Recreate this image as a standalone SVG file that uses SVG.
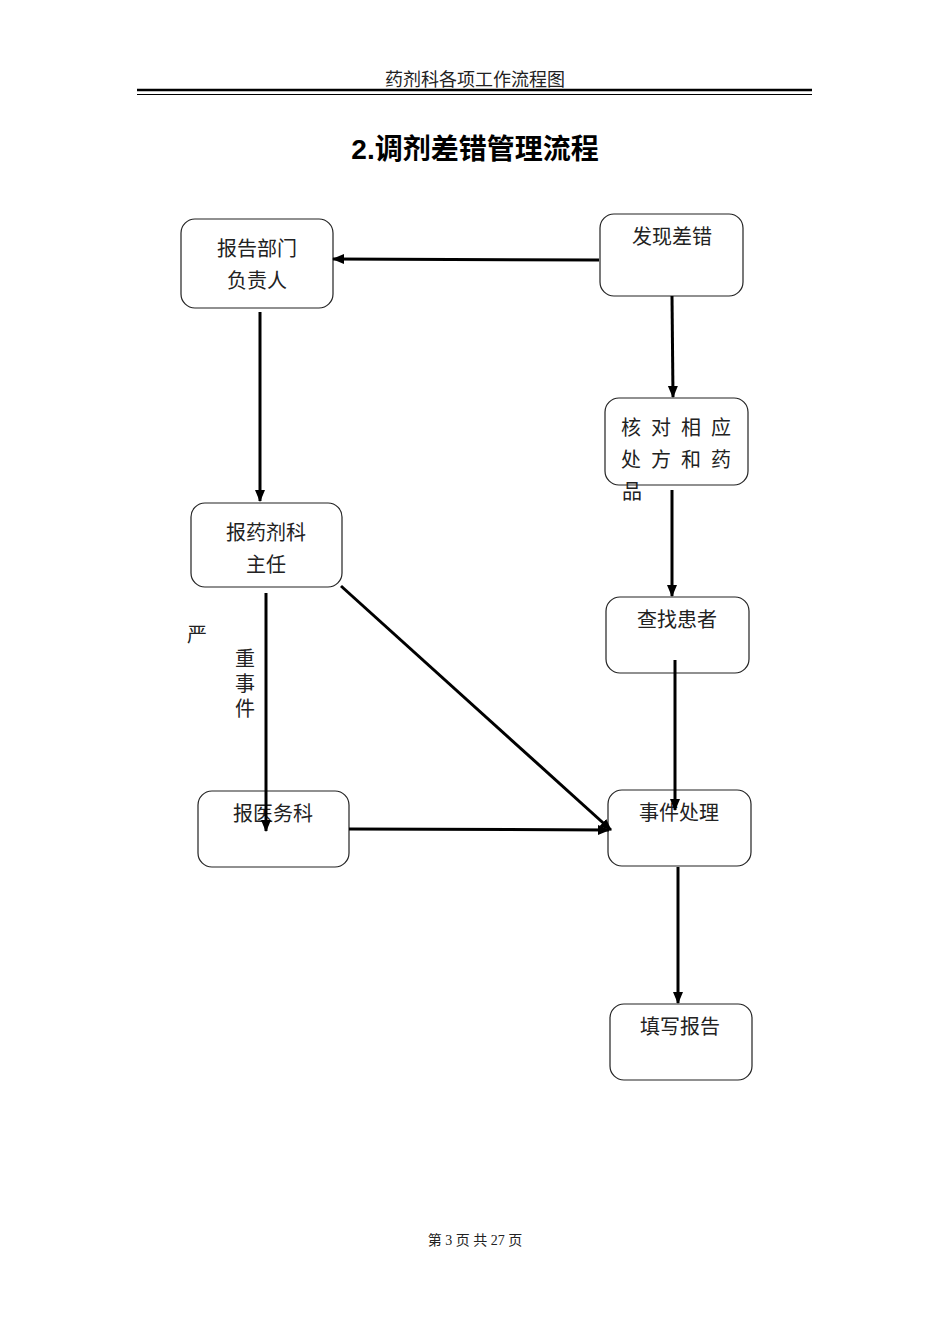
<svg xmlns="http://www.w3.org/2000/svg" width="950" height="1344" viewBox="0 0 950 1344">
<style>
.box{fill:#fff;stroke:#222;stroke-width:1.2}
.t{font-family:"Liberation Serif","Noto Sans CJK SC",sans-serif;font-size:20px;fill:#222;text-anchor:middle}
.c{stroke:#000;stroke-width:3;fill:none;marker-end:url(#ah)}
</style>
<defs>
<marker id="ah" markerUnits="userSpaceOnUse" markerWidth="12" markerHeight="12" viewBox="0 0 12 12" refX="11" refY="6" orient="auto">
<path d="M0,1 L12,6 L0,11 z" fill="#000"/>
</marker>
</defs>
<rect width="950" height="1344" fill="#fff"/>
<g id="header">
<text x="475" y="86" class="t" style="font-size:18px">药剂科各项工作流程图</text>
<line x1="137" y1="90" x2="812" y2="90" stroke="#000" stroke-width="2.5"/>
<line x1="137" y1="94.5" x2="812" y2="94.5" stroke="#000" stroke-width="1"/>
</g>
<text id="title" x="475" y="159" font-family="Liberation Sans,'Noto Sans CJK SC',sans-serif" font-size="28" font-weight="bold" text-anchor="middle" fill="#000">2.调剂差错管理流程</text>
<g id="n1"><rect class="box" x="181" y="219" width="152" height="89" rx="14"/>
<text class="t" x="257" y="256">报告部门</text><text class="t" x="257" y="288">负责人</text></g>
<g id="n2"><rect class="box" x="600" y="214" width="143" height="82" rx="14"/>
<text class="t" x="672" y="244">发现差错</text></g>
<g id="n3"><rect class="box" x="605" y="398" width="143" height="87" rx="14"/>
<text class="t" x="681" y="435" style="letter-spacing:10px">核对相应</text>
<text class="t" x="681" y="467" style="letter-spacing:10px">处方和药</text>
<text class="t" x="632" y="499">品</text></g>
<g id="n4"><rect class="box" x="191" y="503" width="151" height="84" rx="14"/>
<text class="t" x="266" y="540">报药剂科</text><text class="t" x="266" y="572">主任</text></g>
<g id="n5"><rect class="box" x="606" y="597" width="143" height="76" rx="14"/>
<text class="t" x="677" y="627">查找患者</text></g>
<g id="n6"><rect class="box" x="198" y="791" width="151" height="76" rx="14"/>
<text class="t" x="273" y="821">报医务科</text></g>
<g id="n7"><rect class="box" x="608" y="790" width="143" height="76" rx="14"/>
<text class="t" x="679" y="820">事件处理</text></g>
<g id="n8"><rect class="box" x="610" y="1004" width="142" height="76" rx="14"/>
<text class="t" x="680" y="1034">填写报告</text></g>
<g id="labels">
<text class="t" x="197" y="642">严</text>
<text class="t" x="245" y="666">重</text>
<text class="t" x="245" y="691">事</text>
<text class="t" x="245" y="716">件</text>
</g>
<g id="connectors">
<line class="c" x1="599" y1="260" x2="333" y2="259"/>
<line class="c" x1="672" y1="296" x2="673" y2="397"/>
<line class="c" x1="260" y1="312" x2="260" y2="501"/>
<line class="c" x1="672" y1="490" x2="672" y2="596"/>
<line class="c" x1="675" y1="660" x2="675" y2="810"/>
<line class="c" x1="266" y1="593" x2="266" y2="831"/>
<line class="c" x1="341" y1="586" x2="611" y2="830"/>
<line class="c" x1="349" y1="829" x2="609" y2="830"/>
<line class="c" x1="678" y1="867" x2="678" y2="1003"/>
</g>
<text id="footer" class="t" x="475" y="1245" style="font-size:14px">第 3 页 共 27 页</text>
</svg>
